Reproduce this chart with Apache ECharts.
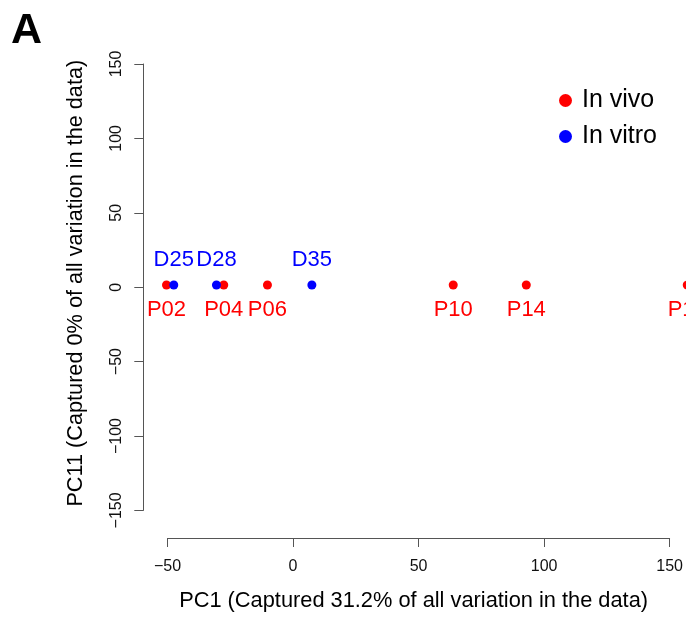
<!DOCTYPE html>
<html>
<head>
<meta charset="utf-8">
<script src="https://cdn.jsdelivr.net/npm/echarts@6/dist/echarts.min.js"></script>
<style>
html,body{margin:0;padding:0;background:#fff;}
#chart{width:686px;height:617px;}
</style>
</head>
<body>
<div id="chart"></div>
<script>
// ---- data ----
const vivoNames = ['P02', 'P04', 'P06', 'P10', 'P14', 'P18'];
const vivoPC1   = [-50.4, -27.6, -10.2, 63.8, 92.9, 157];
const vivoPC11  = [1.5, 1.5, 1.5, 1.5, 1.5, 1.5];

const vitroNames = ['D25', 'D28', 'D35'];
const vitroPC1   = [-47.5, -30.5, 7.5];
const vitroPC11  = [1.5, 1.5, 1.5];

const xTicks = [-50, 0, 50, 100, 150];
const yTicks = [-150, -100, -50, 0, 50, 100, 150];

const FONT = '"Liberation Sans", Arial, sans-serif';
const AXIS_COLOR = '#555';

function pts(names, xs, ys) {
  return names.map((n, i) => ({ name: n, value: [xs[i], ys[i]] }));
}

const chart = echarts.init(document.getElementById('chart'), null, { renderer: 'canvas' });
chart.setOption({
  animation: false,
  backgroundColor: '#fff',
  title: {
    text: 'A',
    left: 6,
    top: 5,
    textStyle: { fontFamily: FONT, fontSize: 43, fontWeight: 'bold', color: '#000' }
  },
  legend: {
    orient: 'vertical',
    left: 554,
    top: 83,
    icon: 'circle',
    itemWidth: 13,
    itemHeight: 13,
    itemGap: 11,
    textStyle: { fontFamily: FONT, fontSize: 25, color: '#000', lineHeight: 25, padding: [0, 0, 0, 5] },
    data: ['In vivo', 'In vitro']
  },
  grid: { left: 167.5, right: 15, top: 64, bottom: 105.3, containLabel: false },
  xAxis: {
    type: 'value',
    min: xTicks[0],
    max: xTicks[xTicks.length - 1],
    interval: 50,
    offset: 27.6,
    name: 'PC1 (Captured 31.2% of all variation in the data)',
    nameLocation: 'middle',
    nameGap: 52,
    nameTextStyle: { fontFamily: FONT, fontSize: 21.8, color: '#000', padding: [0, 10, 0, 0] },
    axisLine: { show: true, onZero: false, lineStyle: { color: AXIS_COLOR, width: 1 } },
    axisTick: { show: true, inside: false, length: 9, lineStyle: { color: AXIS_COLOR, width: 1 } },
    axisLabel: {
      margin: 21, fontFamily: FONT, fontSize: 16, color: '#111',
      formatter: v => String(v).replace('-', '\u2212')
    },
    splitLine: { show: false }
  },
  yAxis: {
    type: 'value',
    min: yTicks[0],
    max: yTicks[yTicks.length - 1],
    interval: 50,
    offset: 24.2,
    name: 'PC11 (Captured 0% of all variation in the data)',
    nameLocation: 'middle',
    nameGap: 56,
    nameRotate: 90,
    nameTextStyle: { fontFamily: FONT, fontSize: 21.7, color: '#000', padding: [0, 0, 0, 8] },
    axisLine: { show: true, onZero: false, lineStyle: { color: AXIS_COLOR, width: 1 } },
    axisTick: { show: true, inside: false, length: 9, lineStyle: { color: AXIS_COLOR, width: 1 } },
    axisLabel: {
      rotate: 90, margin: 19, fontFamily: FONT, fontSize: 16, color: '#111',
      formatter: v => String(v).replace('-', '\u2212')
    },
    splitLine: { show: false }
  },
  series: [
    {
      name: 'In vivo',
      type: 'scatter',
      clip: false,
      symbol: 'circle',
      symbolSize: 9,
      itemStyle: { color: '#ff0000', opacity: 1 },
      label: {
        show: true, position: 'bottom', distance: 9,
        formatter: p => p.name,
        fontFamily: FONT, fontSize: 22, color: '#ff0000'
      },
      data: pts(vivoNames, vivoPC1, vivoPC11)
    },
    {
      name: 'In vitro',
      type: 'scatter',
      clip: false,
      symbol: 'circle',
      symbolSize: 9,
      itemStyle: { color: '#0000ff', opacity: 1 },
      label: {
        show: true, position: 'top', distance: 10,
        formatter: p => p.name,
        fontFamily: FONT, fontSize: 22, color: '#0000ff'
      },
      data: pts(vitroNames, vitroPC1, vitroPC11)
    }
  ]
});
</script>
</body>
</html>
